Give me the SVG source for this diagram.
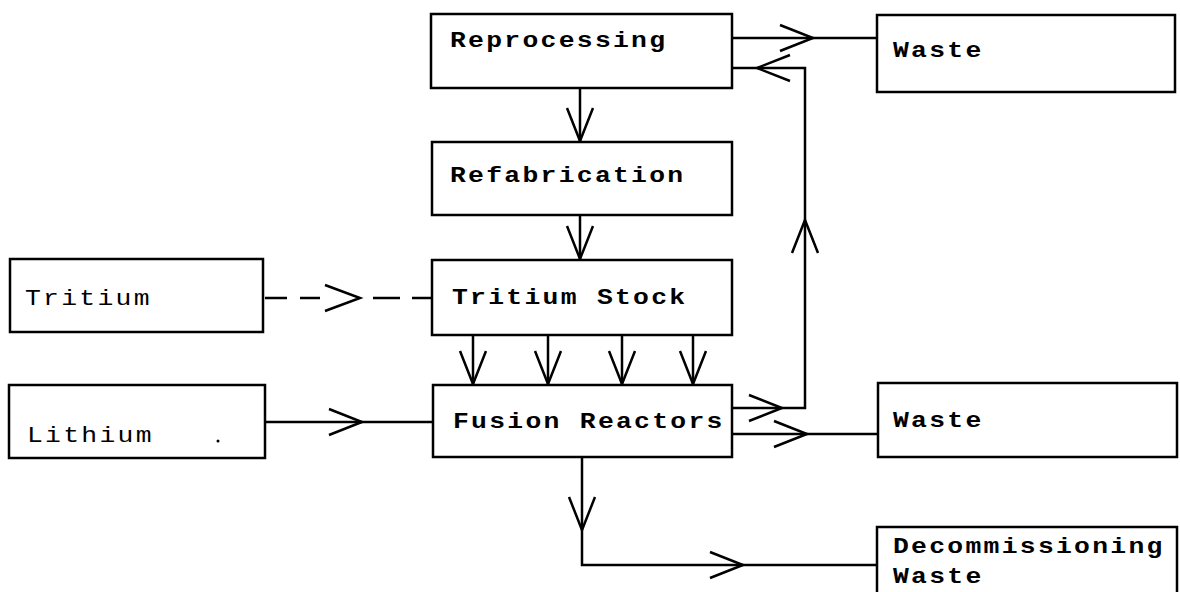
<svg xmlns="http://www.w3.org/2000/svg" width="1180" height="592" viewBox="0 0 1180 592">
<style>
.box{fill:#fff;stroke:#000;stroke-width:2.5}
.lbl{font-family:"Liberation Mono","Courier New",monospace;font-size:22px;font-weight:bold;letter-spacing:1.9px;fill:#000}
.lt{font-weight:normal}
.ln{fill:none;stroke:#000;stroke-width:2.5}
.arr{marker-end:url(#ah)}
</style>
<defs>
<marker id="ah" markerUnits="userSpaceOnUse" orient="auto" refX="0" refY="0" markerWidth="40" markerHeight="30" viewBox="-36 -15 40 30" overflow="visible">
<path d="M-33,-13 L0,0 L-33,13" fill="none" stroke="#000" stroke-width="2.5"/>
</marker>
</defs>
<rect width="1180" height="592" fill="#fff"/>
<g id="connectors">
<path class="ln arr" d="M732,38 L813,38"/>
<path class="ln" d="M813,38 L877,38"/>
<path class="ln arr" d="M732,408 L782,408"/>
<path class="ln arr" d="M782,408 L805,408 L805,220"/>
<path class="ln arr" d="M805,220 L805,68 L757,68"/>
<path class="ln" d="M757,68 L732,68"/>
<path class="ln arr" d="M580,88 L580,141"/>
<path class="ln arr" d="M580,215 L580,259"/>
<path class="ln" d="M265,298 L287,298 M300,298 L320,298 M373,298 L400,298 M412,298 L432,298"/>
<path class="ln" d="M325,285 L360,298 L325,311"/>
<path class="ln arr" d="M265,422 L362,422"/>
<path class="ln" d="M362,422 L433,422"/>
<path class="ln arr" d="M473,335 L473,384"/>
<path class="ln arr" d="M548,335 L548,384"/>
<path class="ln arr" d="M622,335 L622,384"/>
<path class="ln arr" d="M693,335 L693,384"/>
<path class="ln arr" d="M732,434 L807,434"/>
<path class="ln" d="M807,434 L878,434"/>
<path class="ln arr" d="M582,457 L582,530"/>
<path class="ln arr" d="M582,530 L582,565 L743,565"/>
<path class="ln" d="M743,565 L877,565"/>
</g>
<g id="reprocessing"><rect class="box" x="431" y="14" width="301" height="74"/><text class="lbl" transform="translate(450,47) scale(1.2,1)">Reprocessing</text></g>
<g id="waste-top"><rect class="box" x="877" y="15" width="298" height="77"/><text class="lbl" transform="translate(893,57) scale(1.2,1)">Waste</text></g>
<g id="refabrication"><rect class="box" x="432" y="142" width="300" height="73"/><text class="lbl" transform="translate(450,182) scale(1.2,1)">Refabrication</text></g>
<g id="tritium"><rect class="box" x="10" y="259" width="253" height="73"/><text class="lbl lt" transform="translate(25,305) scale(1.2,1)">Tritium</text></g>
<g id="tritium-stock"><rect class="box" x="432" y="260" width="300" height="75"/><text class="lbl" transform="translate(452,304) scale(1.2,1)">Tritium Stock</text></g>
<g id="lithium"><rect class="box" x="9" y="385" width="256" height="73"/><text class="lbl lt" transform="translate(27,442) scale(1.2,1)">Lithium</text><circle cx="218" cy="441" r="1.5" fill="#000"/></g>
<g id="fusion-reactors"><rect class="box" x="433" y="385" width="299" height="72"/><text class="lbl" transform="translate(453,428) scale(1.2,1)">Fusion Reactors</text></g>
<g id="waste-mid"><rect class="box" x="878" y="383" width="299" height="74"/><text class="lbl" transform="translate(893,427) scale(1.2,1)">Waste</text></g>
<g id="decommissioning-waste"><rect class="box" x="877" y="527" width="300" height="80"/><text class="lbl" transform="translate(893,553) scale(1.2,1)">Decommissioning</text><text class="lbl" transform="translate(893,583) scale(1.2,1)">Waste</text></g>
</svg>
